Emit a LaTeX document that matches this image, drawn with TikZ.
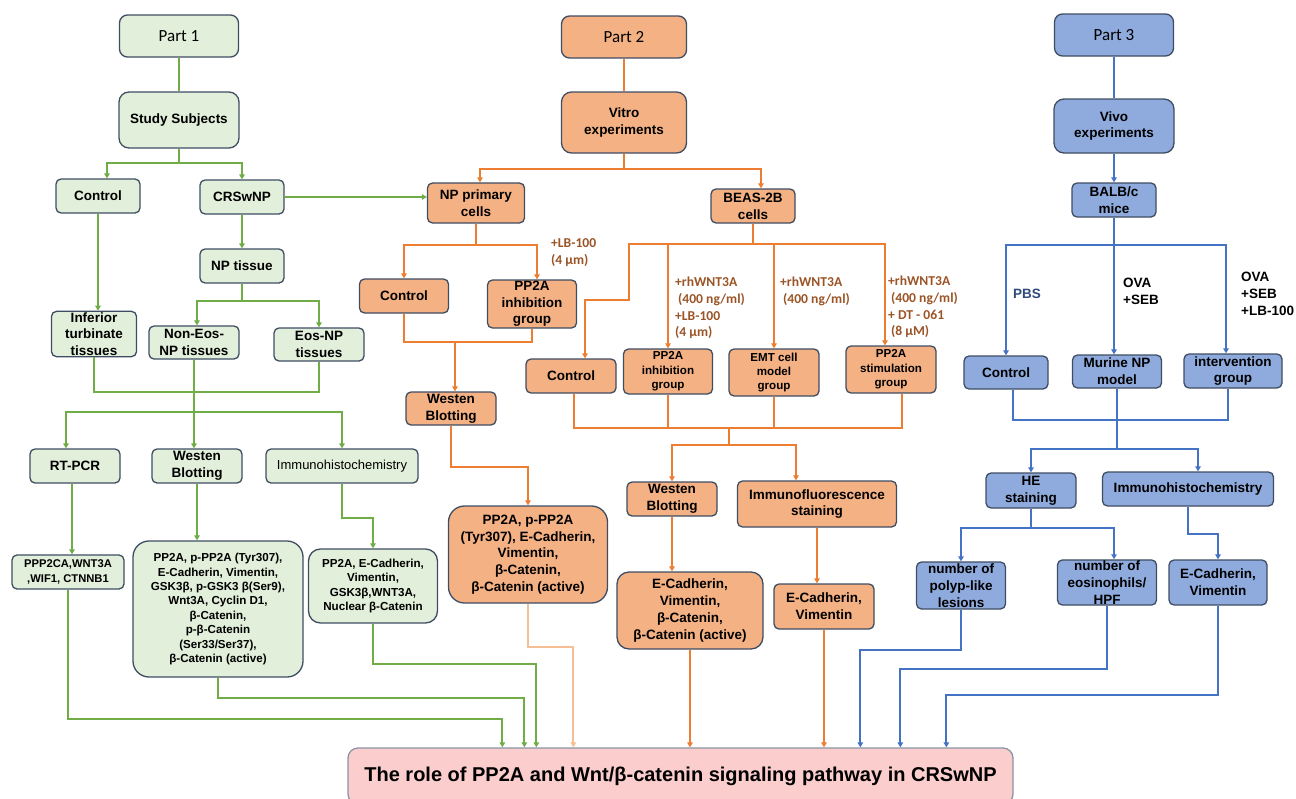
\documentclass[tikz,border=0pt]{standalone}
\usepackage{fontspec}
\setmainfont{Liberation Sans}
\newfontfamily\calibfont{Carlito}
\usetikzlibrary{arrows.meta}

\definecolor{gfill}{HTML}{E2EFDA}
\definecolor{ofill}{HTML}{F4B183}
\definecolor{bfill}{HTML}{8FAADC}
\definecolor{pfill}{HTML}{FCCDCD}
\definecolor{gline}{HTML}{70AD47}
\definecolor{oline}{HTML}{ED7D31}
\definecolor{olight}{HTML}{F6BE95}
\definecolor{bline}{HTML}{4472C4}
\definecolor{edge}{HTML}{3F4D63}
\definecolor{pedge}{HTML}{8A93A6}
\definecolor{notebrown}{HTML}{9A5426}
\definecolor{navy}{HTML}{2F4B7C}

\newcommand\nodefnt{\bfseries\fontsize{13.5}{16.7}\selectfont}
\newcommand\smallfnt{\bfseries\fontsize{11.6}{14.4}\selectfont}
\newcommand\partfnt{\calibfont\fontsize{17}{20}\selectfont}
\newcommand\notefnt{\calibfont\bfseries\fontsize{13.6}{16.8}\selectfont}

\tikzset{
	flowbox/.style={draw=edge,line width=1.3pt,rounded corners=5pt,align=center,inner sep=1pt,font=\nodefnt},
	gnode/.style={flowbox,fill=gfill},
	onode/.style={flowbox,fill=ofill},
	bnode/.style={flowbox,fill=bfill},
	glink/.style={draw=gline,line width=1.9pt},
	olink/.style={draw=oline,line width=1.9pt},
	blink/.style={draw=bline,line width=1.9pt},
	garrow/.style={glink,->},
	oarrow/.style={olink,->},
	barrow/.style={blink,->},
	dose/.style={inner sep=0pt,align=left,text=notebrown,font=\notefnt},
	cond/.style={inner sep=0pt,align=left,font=\nodefnt}
}

\begin{document}
\begin{tikzpicture}[x=1pt,y=-1pt,>={Triangle[length=5pt,width=5.5pt]}]

\useasboundingbox (0,0) rectangle (1296,798);

% Part 1
\node[gnode,font=\partfnt,rounded corners=8pt,minimum width=119,minimum height=42] (p1) at (179,36) {Part 1};
\node[gnode,rounded corners=10pt,minimum width=120,minimum height=56] (subj) at (179,120) {Study Subjects};
\node[gnode,minimum width=84,minimum height=34] (ctlA) at (98,196) {Control};
\node[gnode,minimum width=84,minimum height=34] (crs) at (242,197) {CRSwNP};
\node[gnode,minimum width=84,minimum height=34] (nptis) at (242,266) {NP tissue};
\node[gnode,minimum width=85,minimum height=44] (inf) at (94,334) {Inferior\\turbinate\\tissues};
\node[gnode,minimum width=90,minimum height=33] (noneos) at (194,342.5) {Non-Eos-\\NP tissues};
\node[gnode,minimum width=90,minimum height=33] (eos) at (319,344.5) {Eos-NP\\tissues};
\node[gnode,minimum width=90,minimum height=34] (rtpcr) at (75,466) {RT-PCR};
\node[gnode,minimum width=90,minimum height=34] (wbA) at (197,466) {Westen\\Blotting};
\node[gnode,font=\fontsize{13}{16}\selectfont,minimum width=152,minimum height=34] (ihcA) at (342,466) {Immunohistochemistry};
\node[gnode,font=\bfseries\fontsize{11.2}{14.4}\selectfont,minimum width=112,minimum height=34] (ppp) at (68,572) {PPP2CA,WNT3A\\,WIF1, CTNNB1};
\node[gnode,font=\smallfnt,rounded corners=16pt,minimum width=170,minimum height=136] (wbres) at (218,609)
	{PP2A, p-PP2A (Tyr307),\\E-Cadherin, Vimentin,\\GSK3β, p-GSK3 β(Ser9),\\Wnt3A, Cyclin D1,\\β-Catenin,\\p-β-Catenin\\(Ser33/Ser37),\\β-Catenin (active)};
\node[gnode,font=\smallfnt,rounded corners=12pt,minimum width=129,minimum height=74] (ihcres) at (373,586)
	{PP2A, E-Cadherin,\\Vimentin,\\GSK3β,WNT3A,\\Nuclear β-Catenin};

% Part 2
\node[onode,font=\partfnt,rounded corners=8pt,minimum width=125,minimum height=42] (p2) at (624,37) {Part 2};
\node[onode,rounded corners=10pt,minimum width=125,minimum height=61] (vitro) at (624,122.5) {Vitro\\experiments};
\node[onode,minimum width=97,minimum height=40] (npc) at (476,203) {NP primary\\cells};
\node[onode,minimum width=89,minimum height=34] (ctlB) at (404,296) {Control};
\node[onode,minimum width=89,minimum height=48] (inhB) at (532,304) {PP2A\\inhibition\\group};
\node[onode,minimum width=90,minimum height=33] (wbB) at (451,408.5) {Westen\\Blotting};
\node[onode,rounded corners=16pt,minimum width=159,minimum height=97] (resB) at (528,554.5)
	{PP2A, p-PP2A\\(Tyr307), E-Cadherin,\\Vimentin,\\β-Catenin,\\β-Catenin (active)};
\node[onode,minimum width=84,minimum height=34] (beas) at (753,206) {BEAS-2B\\cells};
\node[onode,minimum width=90,minimum height=34] (ctlC) at (571,376) {Control};
\node[onode,font=\smallfnt,minimum width=89,minimum height=45] (inhC) at (668,371.5) {PP2A\\inhibition\\group};
\node[onode,font=\smallfnt,minimum width=90,minimum height=47] (emt) at (774,372.5) {EMT cell\\model\\group};
\node[onode,font=\smallfnt,minimum width=90,minimum height=47] (stim) at (891,369.5) {PP2A\\stimulation\\group};
\node[onode,minimum width=90,minimum height=34] (wbC) at (672,499) {Westen\\Blotting};
\node[onode,minimum width=159,minimum height=46] (ifs) at (817,504) {Immunofluorescence\\staining};
\node[onode,rounded corners=12pt,minimum width=146,minimum height=77] (resC) at (690,610.5)
	{E-Cadherin,\\Vimentin,\\β-Catenin,\\β-Catenin (active)};
\node[onode,minimum width=100,minimum height=45] (resD) at (824,606.5) {E-Cadherin,\\Vimentin};

% Part 3
\node[bnode,font=\partfnt,rounded corners=8pt,minimum width=119,minimum height=42] (p3) at (1114,35) {Part 3};
\node[bnode,rounded corners=10pt,minimum width=120,minimum height=54] (vivo) at (1114,126) {Vivo\\experiments};
\node[bnode,minimum width=84,minimum height=34] (balb) at (1114,200) {BALB/c\\mice};
\node[bnode,minimum width=84,minimum height=33] (ctlD) at (1006,372.5) {Control};
\node[bnode,minimum width=89,minimum height=33] (murine) at (1117,371.5) {Murine NP\\model};
\node[bnode,minimum width=98,minimum height=34] (interv) at (1233,371) {intervention\\group};
\node[bnode,minimum width=90,minimum height=35] (he) at (1031,490.5) {HE\\staining};
\node[bnode,minimum width=171,minimum height=34] (ihcD) at (1188,489) {Immunohistochemistry};
\node[bnode,minimum width=89,minimum height=47] (polyp) at (961,585.5) {number of\\polyp-like\\lesions};
\node[bnode,minimum width=99,minimum height=45] (eosin) at (1107,582.5) {number of\\eosinophils/\\HPF};
\node[bnode,minimum width=98,minimum height=45] (ecadD) at (1218,582.5) {E-Cadherin,\\Vimentin};

\node[flowbox,fill=pfill,draw=pedge,font=\bfseries\fontsize{20}{24}\selectfont,rounded corners=10pt,minimum width=665,minimum height=56] (role) at (680.5,776)
	{The role of PP2A and Wnt/β-catenin signaling pathway in CRSwNP};

% treatments
\node[dose,anchor=west] (lbB) at (551,252.5) {+LB-100\\(4 µm)};
\node[dose,anchor=west] (lbC) at (675,308) {+rhWNT3A\\\hspace*{3pt}(400 ng/ml)\\+LB-100\\(4 µm)};
\node[dose,anchor=west] (wnt) at (780,291.5) {+rhWNT3A\\\hspace*{3pt}(400 ng/ml)};
\node[dose,anchor=west] (dt) at (888,307) {+rhWNT3A\\\hspace*{3pt}(400 ng/ml)\\+ DT - 061\\\hspace*{3pt}(8 µM)};
\node[cond,text=navy,anchor=west] (pbs) at (1013,294) {PBS};
\node[cond,anchor=west] (ova) at (1123,291) {OVA\\+SEB};
\node[cond,anchor=west] (ovalb) at (1241,294) {OVA\\+SEB\\+LB-100};

% part 1 links
\draw[glink] (p1) -- (subj);
\draw[garrow] (subj.south) -- ++(0,14) -| ([xshift=9pt]ctlA.north);
\draw[garrow] (subj.south) -- ++(0,14) -| (crs.north);
\draw[garrow] (crs.east) -- (crs.east -| npc.west);
\draw[garrow] (crs) -- (nptis);
\draw[garrow] (ctlA.south) -- (ctlA.south |- inf.north);
\draw[garrow] (nptis.south) -- ++(0,17) -| ([xshift=3pt]noneos.north);
\draw[garrow] (nptis.south) -- ++(0,17) -| (eos.north);

\coordinate (gm) at (194,392);
\coordinate (gs) at (194,412);
\draw[glink] (inf.south) |- (gm) -| (eos.south);
\draw[glink] (noneos.south) -- (gs);
\draw[garrow] (gs) -| ([xshift=-9pt]rtpcr.north);
\draw[garrow] (gs) -- ([xshift=-3pt]wbA.north);
\draw[garrow] (gs) -| (ihcA.north);

\draw[garrow] ([xshift=-3pt]rtpcr.south) -- ([xshift=-3pt]rtpcr.south |- ppp.north);
\draw[garrow] (wbA.south) -- (wbA.south |- wbres.north);
\draw[garrow] (ihcA.south) -- ++(0,34) -| (ihcres.north);

\draw[garrow] (ppp.south) -- ++(0,129) -| ([xshift=155pt]role.north west);
\draw[garrow] (wbres.south) -- ++(0,20) -| ([xshift=177pt]role.north west);
\draw[garrow] (ihcres.south) -- ++(0,40) -| ([xshift=189pt]role.north west);

% part 2 links
\draw[olink] (p2) -- (vitro);
\draw[oarrow] (vitro.south) -- ++(0,15) -| ([xshift=4pt]npc.north);
\draw[oarrow] (vitro.south) -- ++(0,15) -| ([xshift=8pt]beas.north);
\draw[oarrow] (npc.south) -- ++(0,21) -| (ctlB.north);
\draw[oarrow] (npc.south) -- ++(0,21) -| ([xshift=5pt]inhB.north);

\coordinate (om1) at (455,342);
\draw[olink] (ctlB.south) |- (om1) -| (inhB.south);
\draw[oarrow] (om1) -- ([xshift=4pt]wbB.north);
\draw[oarrow] (wbB.south) -- ++(0,41) -| (resB.north);
\draw[draw=olight,line width=1.9pt,->] (resB.south) -- ++(0,43) -| ([xshift=226pt]role.north west);

\draw[oarrow] (beas.south) -- ++(0,20) -| (629,300) -| ([xshift=14pt]ctlC.north);
\draw[oarrow] (beas.south) -- ++(0,20) -| (inhC.north);
\draw[oarrow] (beas.south) -- ++(0,20) -| (emt.north);
\draw[oarrow] (beas.south) -- ++(0,20) -| ([xshift=-6pt]stim.north);

\coordinate (om2) at (729,428);
\draw[olink] ([xshift=3pt]ctlC.south) |- (om2) -| ([xshift=11pt]stim.south);
\draw[olink] (inhC.south) -- (inhC.south |- om2);
\draw[olink] (emt.south) -- (emt.south |- om2);
\draw[oarrow] (om2) -- ++(0,17) -| (wbC.north);
\draw[oarrow] (om2) -- ++(0,17) -| ([xshift=-21pt]ifs.north);
\draw[oarrow] (wbC.south) -- (wbC.south |- resC.north);
\draw[oarrow] (ifs.south) -- (ifs.south |- resD.north);
\draw[oarrow] (resC.south) -- (resC.south |- role.north);
\draw[oarrow] (resD.south) -- (resD.south |- role.north);

% part 3 links
\draw[blink] (p3) -- (vivo);
\draw[barrow] (vivo.south) -- (vivo.south |- balb.north);
\draw[barrow] (balb.south) -- ++(0,27) -| (ctlD.north);
\draw[barrow] (balb.south) -- ++(0,27) -| ([xshift=-3pt]murine.north);
\draw[barrow] (balb.south) -- ++(0,27) -| ([xshift=-7pt]interv.north);

\coordinate (bm) at (1117,420);
\draw[blink] ([xshift=7pt]ctlD.south) |- (bm) -| ([xshift=-5pt]interv.south);
\draw[blink] (murine.south) -- (murine.south |- bm);
\draw[barrow] (bm) -- ++(0,29) -| (he.north);
\draw[barrow] (bm) -- ++(0,29) -| ([xshift=10pt]ihcD.north);
\draw[barrow] (he.south) -- ++(0,19) -| (polyp.north);
\draw[barrow] (he.south) -- ++(0,19) -| ([xshift=7pt]eosin.north);
\draw[barrow] (ihcD.south) -- ++(0,27) -| (ecadD.north);

\draw[barrow] (polyp.south) -- ++(0,40) -| ([xshift=513pt]role.north west);
\draw[barrow] (eosin.south) -- ++(0,63) -| ([xshift=553pt]role.north west);
\draw[barrow] (ecadD.south) -- ++(0,89) -| ([xshift=599pt]role.north west);

\end{tikzpicture}
\end{document}
